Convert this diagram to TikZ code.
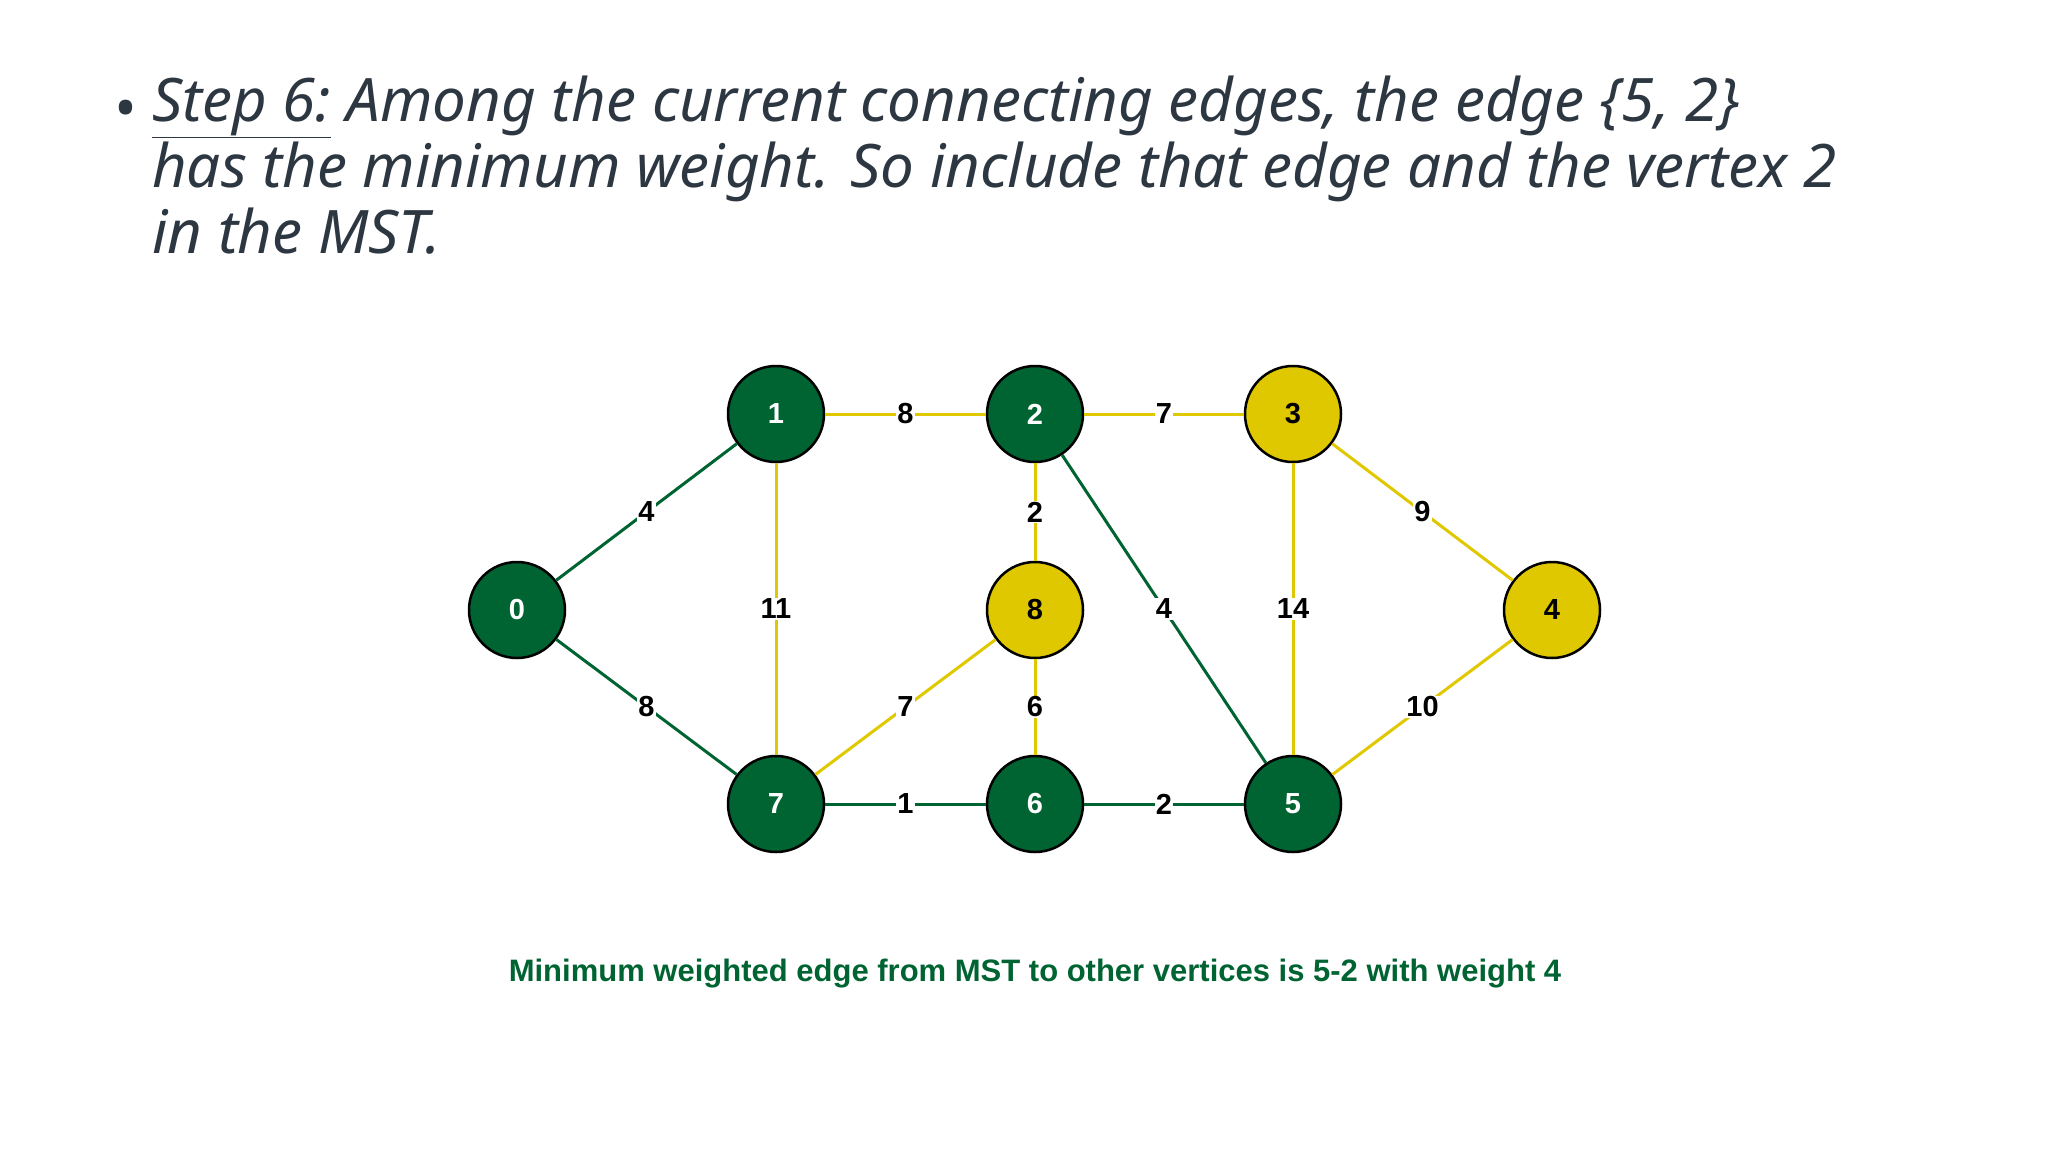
\documentclass[tikz,border=0pt]{standalone}
\usepackage{fontspec}
\setmainfont{Noto Sans}
\newfontfamily\capfont{Liberation Sans}
\definecolor{mstgreen}{RGB}{0,100,50}
\definecolor{candyellow}{RGB}{224,200,0}
\definecolor{slidetext}{RGB}{45,55,65}
\begin{document}
\begin{tikzpicture}[x=1pt,y=-1pt,
    vertex/.style={circle, draw=black, line width=2.5pt, minimum size=96pt, inner sep=0pt, font=\capfont\bfseries\fontsize{29}{29}\selectfont, fill=#1},
    tree/.style={draw=mstgreen, line width=3pt},
    cand/.style={draw=candyellow, line width=3pt},
    weight/.style={fill=white, inner sep=1pt, font=\capfont\bfseries\fontsize{29}{29}\selectfont}
]
\useasboundingbox (0,0) rectangle (2048,1152);

% Slide text
\node[text=slidetext, anchor=base west, font=\itshape\fontsize{60}{66}\selectfont] (bullet) at (110,129) {\textbullet};
\node[text=slidetext, anchor=north west, align=left, inner sep=0pt, font=\itshape\fontsize{60}{66}\selectfont] (body) at (152,76)
  {\underline{\textbf{Step 6:}} Among the current connecting edges, the edge \{5, 2\}\\has the minimum weight. So include that edge and the vertex 2\\in the MST.};

% Vertices
\node[vertex=mstgreen, text=white] (v0) at (517,610) {0};
\node[vertex=mstgreen, text=white] (v1) at (776,414) {1};
\node[vertex=mstgreen, text=white] (v2) at (1035,414) {2};
\node[vertex=candyellow, text=black] (v3) at (1293,414) {3};
\node[vertex=candyellow, text=black] (v4) at (1552,610) {4};
\node[vertex=mstgreen, text=white] (v5) at (1293,804) {5};
\node[vertex=mstgreen, text=white] (v6) at (1035,804) {6};
\node[vertex=mstgreen, text=white] (v7) at (776,804) {7};
\node[vertex=candyellow, text=black] (v8) at (1035,610) {8};

% Edges
\begin{scope}[on background layer/.try]
\draw[tree] (v0) -- node[weight] {4} (v1);
\draw[tree] (v0) -- node[weight] {8} (v7);
\draw[cand] (v1) -- node[weight] {8} (v2);
\draw[cand] (v1) -- node[weight] {11} (v7);
\draw[cand] (v2) -- node[weight] {7} (v3);
\draw[cand] (v2) -- node[weight] {2} (v8);
\draw[tree] (v2) -- node[weight] {4} (v5);
\draw[cand] (v3) -- node[weight] {9} (v4);
\draw[cand] (v3) -- node[weight] {14} (v5);
\draw[cand] (v5) -- node[weight] {10} (v4);
\draw[cand] (v8) -- node[weight] {7} (v7);
\draw[cand] (v8) -- node[weight] {6} (v6);
\draw[tree] (v7) -- node[weight] {1} (v6);
\draw[tree] (v6) -- node[weight] {2} (v5);
\end{scope}

% Caption
\node[text=mstgreen, font=\capfont\bfseries\fontsize{31}{31}\selectfont] (caption) at (1035,974) {Minimum weighted edge from MST to other vertices is 5-2 with weight 4};
\end{tikzpicture}
\end{document}
